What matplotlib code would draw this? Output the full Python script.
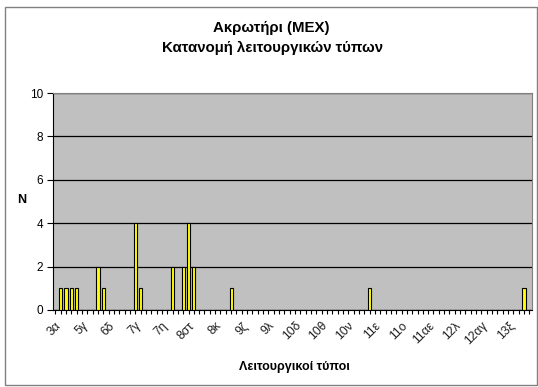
import matplotlib
matplotlib.use('Agg')
import matplotlib.pyplot as plt
from matplotlib.patches import Rectangle

plt.rcParams['font.family'] = ['Liberation Sans', 'DejaVu Sans']

# Labels shown every 5th category
shown_labels = ['3α', '5γ', '6δ', '7γ', '7η', '8στ', '8κ', '9ζ', '9λ',
                '10δ', '10θ', '10ν', '11ε', '11ο', '11αε', '12λ', '12αγ', '13ξ']

# Counts per functional type (90 categories)
counts = [0, 1, 1, 1, 1, 0, 0, 0, 2, 1,
          0, 0, 0, 0, 0, 4, 1, 0, 0, 0,
          0, 0, 2, 0, 2, 4, 2, 0, 0, 0,
          0, 0, 0, 1, 0, 0, 0, 0, 0, 0,
          0, 0, 0, 0, 0, 0, 0, 0, 0, 0,
          0, 0, 0, 0, 0, 0, 0, 0, 0, 1,
          0, 0, 0, 0, 0, 0, 0, 0, 0, 0,
          0, 0, 0, 0, 0, 0, 0, 0, 0, 0,
          0, 0, 0, 0, 0, 0, 0, 0, 1, 0]

W, H = 538, 387
fig = plt.figure(figsize=(W / 100, H / 100), dpi=100)

# outer chart border
fig.patches.append(Rectangle((5 / W, 0.005), (W - 6) / W, (H - 9) / H,
                             transform=fig.transFigure, fill=False,
                             edgecolor='#808080', linewidth=1))

left, right, top, bottom = 52.7, 532, 93, 310
ax = fig.add_axes([left / W, 1 - bottom / H, (right - left) / W, (bottom - top) / H])
ax.set_facecolor('#C0C0C0')

x = list(range(len(counts)))
ax.bar(x, counts, width=0.6, color='#FFFF00', edgecolor='black', linewidth=0.8, zorder=3)

ax.set_xlim(-0.5, len(counts) - 0.5)
ax.set_ylim(0, 10)
ax.set_yticks(range(0, 11, 2))
ax.grid(axis='y', color='black', linewidth=0.9, zorder=1)

ticklabels = [''] * len(counts)
for i, lab in enumerate(shown_labels):
    ticklabels[i * 5] = lab
ax.set_xticks(x)
ax.set_xticklabels(ticklabels, rotation=45, ha='right', rotation_mode='anchor',
                   fontsize=8.8, color='#202020')
ax.tick_params(axis='x', length=3, width=0.8, pad=4)
ax.tick_params(axis='y', length=4, width=0.8, labelsize=8.5, pad=3)

for side in ['top', 'right']:
    ax.spines[side].set_color('#808080')
for side in ['left', 'bottom']:
    ax.spines[side].set_color('black')

fig.text(271 / W, 1 - 28 / H, 'Ακρωτήρι (ΜΕΧ)', ha='center', va='center',
         fontsize=10.8, fontweight='bold')
fig.text(273 / W, 1 - 48 / H, 'Κατανομή λειτουργικών τύπων', ha='center', va='center',
         fontsize=10.8, fontweight='bold')
fig.text(22 / W, 1 - 200 / H, 'N', ha='center', va='center', fontsize=9, fontweight='bold')
fig.text(294 / W, 1 - 367 / H, 'Λειτουργικοί τύποι', ha='center', va='center',
         fontsize=9, fontweight='bold')

fig.savefig('out.png', dpi=100)
